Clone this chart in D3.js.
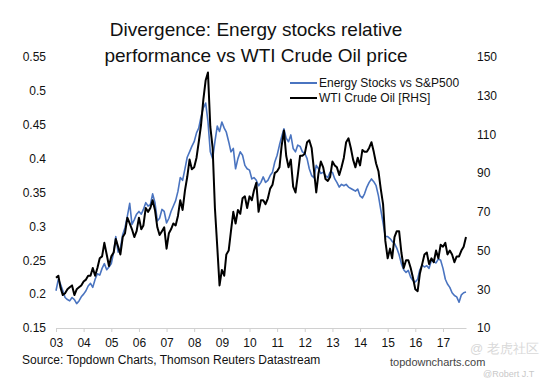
<!DOCTYPE html>
<html>
<head>
<meta charset="utf-8">
<script src="https://cdn.jsdelivr.net/npm/d3@7"></script>
<style>
    body { margin: 0; background: #fff; }
    svg { font-family: "Liberation Sans", Arial, sans-serif; }
</style>
</head>
<body>
<svg id="chart" width="541" height="383"></svg>
<script>
// monthly points, Jan 2003 .. Nov 2017
const startMonth = new Date(2003, 0, 1);

const energyVsSpx = [
    0.205, 0.222, 0.215, 0.205, 0.195, 0.192, 0.190, 0.195, 0.192, 0.186, 0.190, 0.196, // 03
    0.200, 0.205, 0.212, 0.216, 0.210, 0.222, 0.230, 0.228, 0.238, 0.245, 0.236, 0.240, // 04
    0.245, 0.262, 0.285, 0.262, 0.268, 0.288, 0.298, 0.315, 0.334, 0.303, 0.310, 0.318, // 05
    0.322, 0.318, 0.325, 0.335, 0.330, 0.332, 0.348, 0.335, 0.308, 0.312, 0.325, 0.322, // 06
    0.305, 0.312, 0.322, 0.330, 0.338, 0.352, 0.372, 0.368, 0.385, 0.402, 0.410, 0.418, // 07
    0.425, 0.438, 0.445, 0.462, 0.475, 0.482, 0.455, 0.410, 0.400, 0.425, 0.448, 0.440, // 08
    0.454, 0.445, 0.439, 0.425, 0.410, 0.415, 0.385, 0.400, 0.410, 0.405, 0.390, 0.385, // 09
    0.383, 0.370, 0.372, 0.368, 0.360, 0.365, 0.373, 0.365, 0.368, 0.375, 0.380, 0.395, // 10
    0.405, 0.420, 0.432, 0.444, 0.430, 0.425, 0.435, 0.415, 0.410, 0.420, 0.418, 0.410, // 11
    0.408, 0.400, 0.385, 0.375, 0.372, 0.390, 0.385, 0.378, 0.380, 0.375, 0.372, 0.380, // 12
    0.380, 0.370, 0.365, 0.358, 0.362, 0.360, 0.362, 0.358, 0.356, 0.354, 0.352, 0.355, // 13
    0.345, 0.342, 0.348, 0.358, 0.365, 0.370, 0.366, 0.360, 0.345, 0.325, 0.305, 0.285, // 14
    0.285, 0.282, 0.278, 0.275, 0.268, 0.258, 0.245, 0.236, 0.232, 0.235, 0.225, 0.220, // 15
    0.218, 0.222, 0.236, 0.243, 0.240, 0.242, 0.238, 0.250, 0.248, 0.246, 0.252, 0.250, // 16
    0.238, 0.222, 0.215, 0.210, 0.202, 0.198, 0.196, 0.188, 0.199, 0.202, 0.203         // 17
];

const wtiCrude = [
    36, 37, 31, 27, 28, 30, 31, 32, 27, 30, 31, 32,        // 03
    34, 35, 37, 37, 41, 37, 41, 46, 47, 54, 48, 42,        // 04
    47, 49, 56, 52, 48, 57, 59, 67, 64, 61, 57, 60,        // 05
    67, 61, 63, 72, 70, 72, 76, 71, 62, 58, 60, 62,        // 06
    51, 59, 61, 64, 63, 68, 76, 71, 81, 88, 97, 92,        // 07
    93, 98, 106, 115, 128, 138, 142, 114, 103, 72, 52, 32, // 08
    40, 37, 48, 50, 60, 70, 64, 71, 69, 77, 78, 72,        // 09
    78, 76, 81, 85, 70, 76, 76, 74, 77, 82, 84, 90,        // 10
    91, 93, 104, 112, 99, 93, 97, 83, 80, 89, 99, 99,      // 11
    100, 106, 107, 103, 92, 80, 90, 96, 93, 87, 86, 88,    // 12
    96, 94, 93, 89, 93, 98, 106, 108, 103, 97, 93, 98,     // 13
    94, 102, 101, 101, 103, 106, 101, 95, 91, 82, 74, 55,  // 14
    46, 51, 46, 57, 60, 60, 49, 41, 45, 45, 41, 36,        // 15
    30, 29, 38, 43, 48, 49, 43, 46, 44, 50, 46, 53,        // 16
    52, 54, 48, 50, 48, 44, 47, 47, 50, 52, 57             // 17
];

const leftTicks = [0.15, 0.2, 0.25, 0.3, 0.35, 0.4, 0.45, 0.5, 0.55];
const rightTicks = [10, 30, 50, 70, 90, 110, 130, 150];
const yearTicks = d3.range(2003, 2018).map(y => new Date(y, 0, 1));

const titleLines = ["Divergence: Energy stocks relative", "performance vs WTI Crude Oil price"];
const seriesNames = ["Energy Stocks vs S&P500", "WTI Crude Oil [RHS]"];
const seriesColors = ["#4a74c0", "#000000"];

const svg = d3.select("#chart");
const plot = { left: 56, right: 466, top: 57, bottom: 328 };

const months = energyVsSpx.map((d, i) => d3.timeMonth.offset(startMonth, i));

const x = d3.scaleTime()
    .domain([startMonth, months[months.length - 1]])
    .range([plot.left, plot.right]);
const yLeft = d3.scaleLinear().domain([0.15, 0.55]).range([plot.bottom, plot.top]);
const yRight = d3.scaleLinear().domain([10, 150]).range([plot.bottom, plot.top]);

svg.append("rect").attr("width", 541).attr("height", 383).attr("fill", "#fff");

// title
svg.append("g").selectAll("text")
    .data(titleLines)
    .join("text")
    .attr("x", 256)
    .attr("y", (d, i) => 36 + i * 25.5)
    .attr("text-anchor", "middle")
    .attr("font-size", 19)
    .attr("fill", "#111")
    .text(d => d);

// axes
let leftAxis = svg.append("g")
    .attr("transform", "translate(46,0)")
    .call(d3.axisLeft(yLeft).tickValues(leftTicks).tickSize(0).tickFormat(d => String(+d.toFixed(2))));
leftAxis.select(".domain").remove();
leftAxis.selectAll("text").attr("font-size", 12).attr("fill", "#111").attr("font-family", null).attr("x", 0);

let rightAxis = svg.append("g")
    .attr("transform", "translate(477,0)")
    .call(d3.axisRight(yRight).tickValues(rightTicks).tickSize(0));
rightAxis.select(".domain").remove();
rightAxis.selectAll("text").attr("font-size", 12).attr("fill", "#111").attr("font-family", null).attr("x", 0);

let xAxis = svg.append("g")
    .attr("transform", "translate(0," + plot.bottom + ")")
    .call(d3.axisBottom(x).tickValues(yearTicks).tickSize(4).tickSizeOuter(0).tickFormat(d3.timeFormat("%y")));
xAxis.select(".domain").attr("stroke", "#d0d0d0");
xAxis.selectAll(".tick line").attr("stroke", "#d0d0d0");
xAxis.selectAll("text").attr("font-size", 12).attr("fill", "#111").attr("font-family", null).attr("y", 10);

// lines
let energyLine = d3.line()
    .x((d, i) => x(months[i]))
    .y(d => yLeft(d));
let wtiLine = d3.line()
    .x((d, i) => x(months[i]))
    .y(d => yRight(d));

svg.append("path")
    .datum(energyVsSpx)
    .attr("fill", "none")
    .attr("stroke", seriesColors[0])
    .attr("stroke-width", 1.6)
    .attr("stroke-linejoin", "round")
    .attr("d", energyLine);

svg.append("path")
    .datum(wtiCrude)
    .attr("fill", "none")
    .attr("stroke", seriesColors[1])
    .attr("stroke-width", 2)
    .attr("stroke-linejoin", "round")
    .attr("d", wtiLine);

// legend
let legend = svg.append("g").selectAll("g")
    .data(seriesNames)
    .join("g")
    .attr("transform", (d, i) => "translate(290," + (83 + i * 15) + ")");
legend.append("line")
    .attr("x1", 0).attr("x2", 27)
    .attr("stroke", (d, i) => seriesColors[i])
    .attr("stroke-width", 2);
legend.append("text")
    .attr("x", 29)
    .attr("dy", "0.35em")
    .attr("font-size", 12)
    .attr("fill", "#111")
    .text(d => d);

// footer
svg.append("text")
    .attr("x", 22).attr("y", 364)
    .attr("font-size", 12)
    .attr("fill", "#111")
    .text("Source: Topdown Charts, Thomson Reuters Datastream");
svg.append("text")
    .attr("x", 390).attr("y", 366)
    .attr("font-size", 11)
    .attr("fill", "#444")
    .text("topdowncharts.com");

// watermark
svg.append("text")
    .attr("x", 470).attr("y", 353)
    .attr("font-size", 13)
    .attr("fill", "#d8d8d8")
    .text("@ 老虎社区");
svg.append("text")
    .attr("x", 483).attr("y", 377)
    .attr("font-size", 9)
    .attr("fill", "#c8c8c8")
    .text("@Robert J.T");
</script>
</body>
</html>
